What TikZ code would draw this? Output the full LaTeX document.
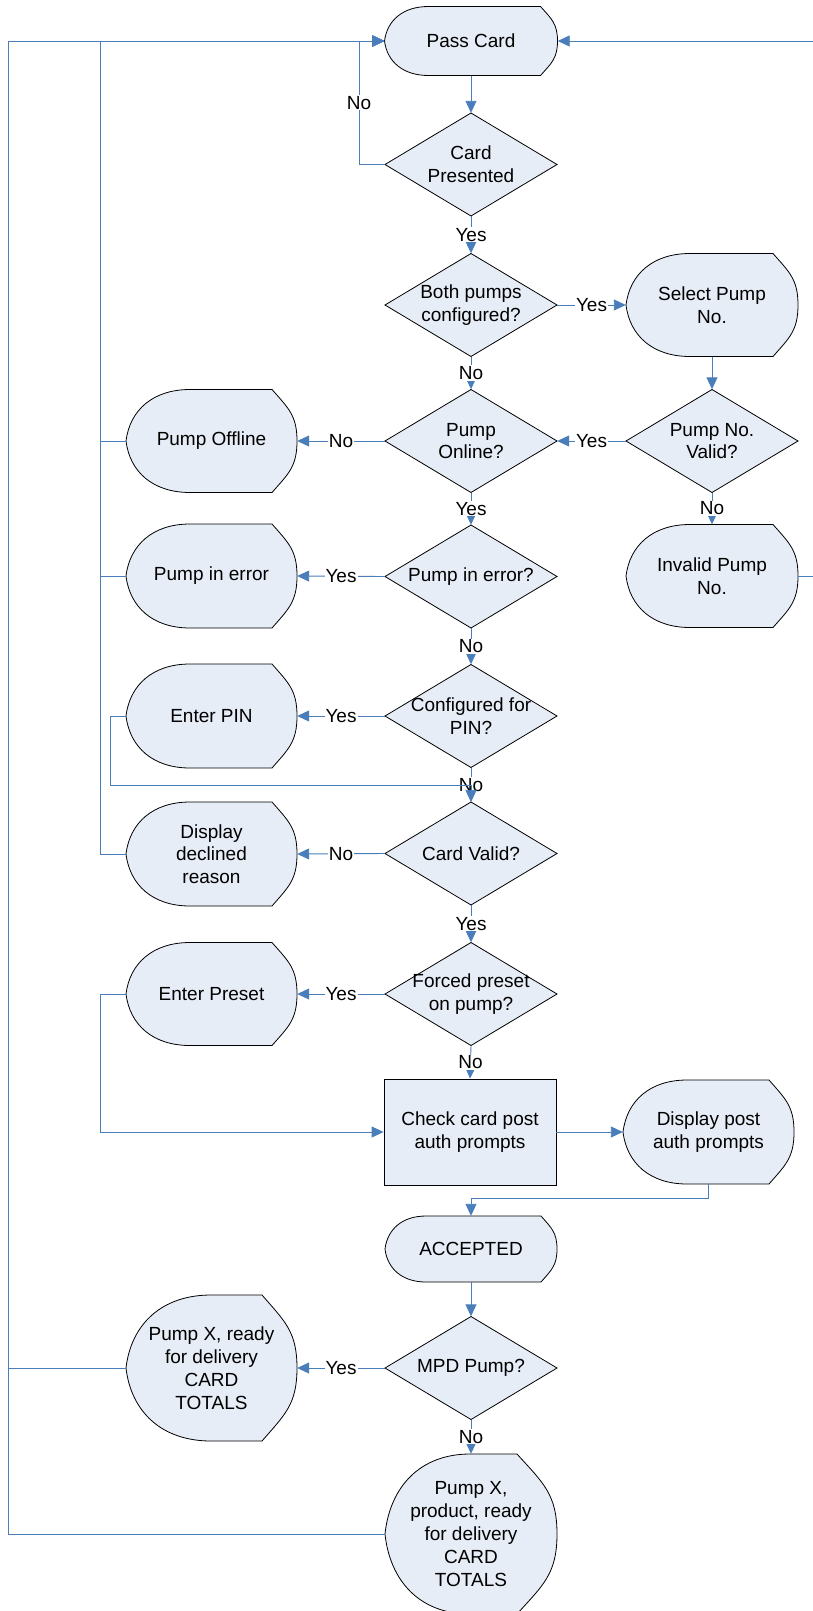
\documentclass[tikz,border=0pt]{standalone}
\usepackage{fontspec}
\setmainfont{Liberation Sans}
\usetikzlibrary{arrows.meta}
\definecolor{lineblue}{RGB}{74,126,187}
\definecolor{shapefill}{RGB}{231,237,247}
\tikzset{
  shapeline/.style={draw=black, fill=shapefill, line width=0.8pt, line join=miter},
  txt/.style={font=\fontsize{19}{22.8}\selectfont, align=center, inner sep=0pt},
  conn/.style={draw=lineblue, line width=0.9pt},
  arr/.style={conn, -{Triangle[length=12pt,width=11pt]}},
  lbl/.style={font=\fontsize{19}{22.8}\selectfont, fill=white, inner sep=1pt, text=black},
}
% display shape: name, cx, cy, w, h, a (left curve extent), b (right curve extent), text
\newcommand{\dispshape}[8]{%
  \pgfmathsetmacro\dXl{#2-#4/2}\pgfmathsetmacro\dXr{#2+#4/2}%
  \pgfmathsetmacro\dYt{#3-#5/2}\pgfmathsetmacro\dYb{#3+#5/2}%
  \draw[shapeline] (\dXl+#6,\dYt) -- (\dXr-#7,\dYt)
    .. controls (\dXr-0.35*#7,\dYt+0.18*#5) and (\dXr,#3-0.25*#5) .. (\dXr,#3)
    .. controls (\dXr,#3+0.25*#5) and (\dXr-0.35*#7,\dYb-0.18*#5) .. (\dXr-#7,\dYb)
    -- (\dXl+#6,\dYb)
    .. controls (\dXl+0.42*#6,\dYb) and (\dXl+0.06*#6,#3+0.3*#5) .. (\dXl,#3)
    .. controls (\dXl+0.06*#6,#3-0.3*#5) and (\dXl+0.42*#6,\dYt) .. cycle;
  \node[txt, minimum width=#4, minimum height=#5] (#1) at (#2,#3) {#8};%
}
% decision diamond: name, cx, cy, w, h, text
\newcommand{\diashape}[6]{%
  \draw[shapeline] (#2,#3-#5/2) -- (#2+#4/2,#3) -- (#2,#3+#5/2) -- (#2-#4/2,#3) -- cycle;
  \node[txt, minimum width=#4, minimum height=#5] (#1) at (#2,#3) {#6};%
}
\begin{document}
\begin{tikzpicture}[x=1pt, y=-1pt]
\useasboundingbox (0,0) rectangle (813,1611);
\fill[white] (0,0) rectangle (813,1611);
\clip (0,0) rectangle (813,1611);

% ---- shapes ----
\dispshape{pass}{471}{41}{173}{69}{44}{17}{Pass Card}
\diashape{cardp}{471}{164.5}{172}{103}{Card\\Presented}
\diashape{both}{471}{305}{172}{103}{Both pumps\\configured?}
\dispshape{select}{712}{305}{172}{103}{64}{25}{Select Pump\\No.}
\diashape{online}{471}{441}{172}{103}{Pump\\Online?}
\diashape{valid}{712}{441}{172}{103}{Pump No.\\Valid?}
\dispshape{offline}{211.5}{441}{171}{103}{64}{25}{Pump Offline}
\diashape{inerr}{471}{576.5}{172}{103}{Pump in error?}
\dispshape{errdisp}{211.5}{576}{171}{104}{64}{25}{Pump in error}
\dispshape{invalid}{712}{576}{172}{103}{64}{25}{Invalid Pump\\No.}
\diashape{config}{471}{716}{172}{103}{Configured for\\PIN?}
\dispshape{pin}{211.5}{716}{171}{104}{64}{25}{Enter PIN}
\diashape{cardvalid}{471}{853.5}{172}{103}{Card Valid?}
\dispshape{declined}{211.5}{854}{171}{104}{64}{25}{Display\\declined\\reason}
\diashape{forced}{471}{994}{172}{103}{Forced preset\\on pump?}
\dispshape{preset}{211.5}{994}{171}{103}{64}{25}{Enter Preset}
\node[shapeline, txt, minimum width=172, minimum height=106] (check) at (470,1132) {Check card post\\auth prompts};
\dispshape{disppost}{708.5}{1132}{171}{104}{64}{25}{Display post\\auth prompts}
\dispshape{accepted}{471}{1249}{172}{66}{41}{16}{ACCEPTED}
\diashape{mpd}{471}{1368}{172}{103}{MPD Pump?}
\dispshape{pxready}{211.5}{1368}{171}{146}{85}{35}{Pump X, ready\\for delivery\\CARD\\TOTALS}
\dispshape{pxprod}{471}{1534}{172}{160}{85}{40}{Pump X,\\product, ready\\for delivery\\CARD\\TOTALS}

% ---- bend points ----
\coordinate (topL1) at (8,41);
\coordinate (topL2) at (100,41);
\coordinate (topNo) at (359,41);
\coordinate (topR) at (830,41);
\coordinate (pinL) at (110,785);
\coordinate (presetL) at (100,1132);
\coordinate (accJ) at (708.5,1198);

% ---- return lines ----
\draw[arr] (pxready.west) -| (topL1) -- (pass.west);
\draw[arr] (pxprod.west) -| (topL1) -- (pass.west);
\draw[arr] (offline.west) -| (topL2) -- (pass.west);
\draw[arr] (errdisp.west) -| (topL2) -- (pass.west);
\draw[arr] (declined.west) -| (topL2) -- (pass.west);
\draw[arr] (invalid.east) -| (topR) -- (pass.east);
\draw[arr] (cardp.west) -| node[lbl, pos=0.75] (l0) {No} (topNo) -- (pass.west);

% ---- main flow ----
\draw[arr] (pass.south) -- (cardp.north);
\draw[arr] (cardp.south) -- node[lbl] (l1) {Yes} (both.north);
\draw[arr] (both.east) -- node[lbl] (l2) {Yes} (select.west);
\draw[arr] (both.south) -- node[lbl] (l3) {No} (online.north);
\draw[arr] (select.south) -- (valid.north);
\draw[arr] (valid.west) -- node[lbl] (l4) {Yes} (online.east);
\draw[arr] (valid.south) -- node[lbl] (l5) {No} (invalid.north);
\draw[arr] (online.west) -- node[lbl] (l6) {No} (offline.east);
\draw[arr] (online.south) -- node[lbl] (l7) {Yes} (inerr.north);
\draw[arr] (inerr.west) -- node[lbl] (l8) {Yes} (errdisp.east);
\draw[arr] (inerr.south) -- node[lbl] (l9) {No} (config.north);
\draw[arr] (config.west) -- node[lbl] (l10) {Yes} (pin.east);
\draw[arr] (config.south) -- node[lbl] (l11) {No} (cardvalid.north);
\draw[arr] (pin.west) -| (pinL) -| (cardvalid.north);
\draw[arr] (cardvalid.west) -- node[lbl] (l12) {No} (declined.east);
\draw[arr] (cardvalid.south) -- node[lbl] (l13) {Yes} (forced.north);
\draw[arr] (forced.west) -- node[lbl] (l14) {Yes} (preset.east);
\draw[arr] (forced.south) -- node[lbl] (l15) {No} (check.north);
\draw[arr] (preset.west) -| (presetL) -- (check.west);
\draw[arr] (check.east) -- (disppost.west);
\draw[arr] (disppost.south) -- (accJ) -| (accepted.north);
\draw[arr] (accepted.south) -- (mpd.north);
\draw[arr] (mpd.west) -- node[lbl] (l16) {Yes} (pxready.east);
\draw[arr] (mpd.south) -- node[lbl] (l17) {No} (pxprod.north);
\end{tikzpicture}
\end{document}
